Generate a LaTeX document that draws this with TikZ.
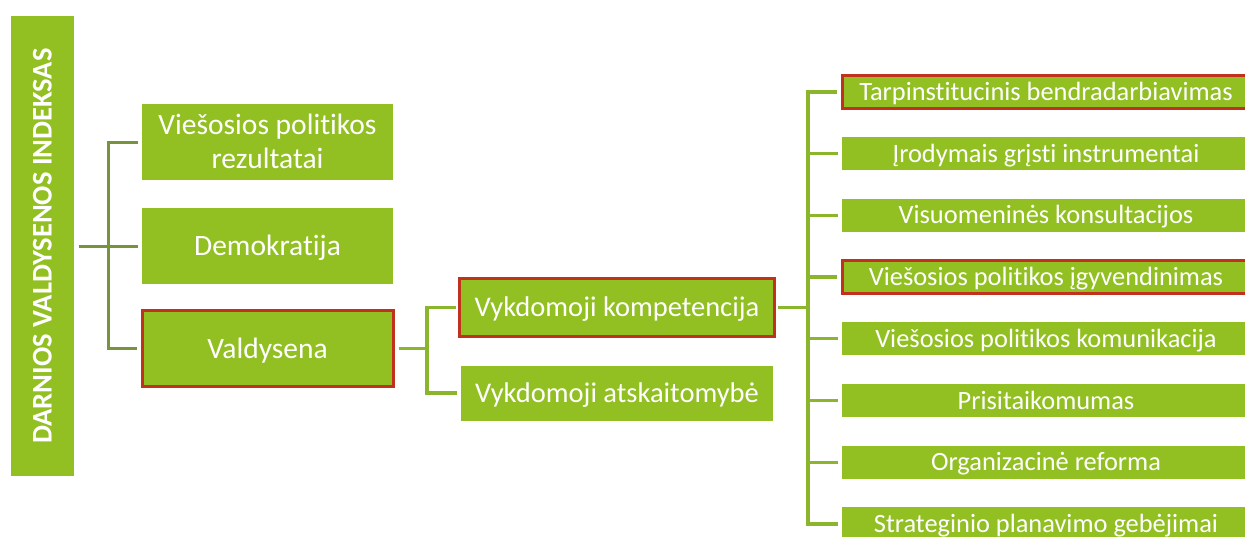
\documentclass[tikz,border=0pt]{standalone}
\usepackage{fontspec}
\setmainfont{Carlito}[Ligatures=NoCommon]
\definecolor{leaf}{RGB}{146,192,35}
\definecolor{stemdark}{RGB}{119,147,60}
\definecolor{stem}{RGB}{139,181,45}
\definecolor{alert}{RGB}{192,50,30}
\tikzset{
  box/.style={fill=leaf, text=white, inner sep=0pt, text depth=0pt, align=center},
  hot/.style={draw=alert, line width=3pt},
  rootbox/.style={box, minimum width=460pt, minimum height=63pt, text height=18.4pt,
    font=\fontsize{28.5}{34}\selectfont\bfseries},
  lvlone/.style={box, minimum width=251pt, minimum height=76pt, text height=19pt,
    font=\fontsize{29.5}{34}\selectfont},
  lvltwo/.style={box, text height=18.5pt, font=\fontsize{28.5}{34}\selectfont},
  lvlthree/.style={box, minimum width=408pt, minimum height=33pt, text height=17pt,
    font=\fontsize{26.4}{30}\selectfont},
  lconn/.style={draw=stemdark, line width=3pt},
  rconn/.style={draw=stem, line width=3.3pt},
}
\begin{document}
\begin{tikzpicture}[x=1pt,y=-1pt]
\useasboundingbox (0,0) rectangle (1245,536);
\clip (0,0) rectangle (1245,536);

% root of the tree
\node[rootbox, rotate=90] (root) at (42.5,246) {DARNIOS VALDYSENOS INDEKSAS};

% first level (two-line text: cap top of line 1 down to baseline of line 2)
\node[lvlone, text height=53pt] (l1a) at (267.5,142) {Viešosios politikos\\rezultatai};
\node[lvlone] (l1b) at (267.5,246) {Demokratija};
\node[lvlone, hot] (l1c) at (267.5,348.5) {Valdysena};

% second level
\node[lvltwo, hot, minimum width=315pt, minimum height=58pt] (l2a) at (617,307.5) {Vykdomoji kompetencija};
\node[lvltwo, minimum width=312pt, minimum height=55pt] (l2b) at (617,393) {Vykdomoji atskaitomybė};

% third level
\node[lvlthree, hot] (t1) at (1046,92) {Tarpinstitucinis bendradarbiavimas};
\node[lvlthree] (t2) at (1046,153.7) {Įrodymais grįsti instrumentai};
\node[lvlthree] (t3) at (1046,215.4) {Visuomeninės konsultacijos};
\node[lvlthree, hot] (t4) at (1046,277.1) {Viešosios politikos įgyvendinimas};
\node[lvlthree] (t5) at (1046,338.8) {Viešosios politikos komunikacija};
\node[lvlthree] (t6) at (1046,400.5) {Prisitaikomumas};
\node[lvlthree] (t7) at (1046,462.2) {Organizacinė reforma};
\node[lvlthree] (t8) at (1046,523.9) {Strateginio planavimo gebėjimai};

% bus lines
\coordinate (bus1) at (108,0);
\coordinate (bus2) at (427,0);
\coordinate (bus3) at (808,0);

% root to first level
\draw[lconn] ([xshift=5pt]root.south) -- ([xshift=-4pt]l1b.west);
\draw[lconn] ([xshift=-4pt]l1a.west) -| (bus1 |- l1c.west) -- ([xshift=-4pt]l1c.west);

% first to second level
\draw[rconn] ([xshift=4pt]l1c.east) -- (l1c.east -| bus2);
\draw[rconn] ([xshift=-2pt]l2a.west) -| (bus2 |- l2b.west) -- ([xshift=-4pt]l2b.west);

% second to third level
\draw[rconn] ([xshift=2pt]l2a.east) -- (l2a.east -| bus3);
\draw[rconn] ([xshift=-4pt]t1.west) -| (bus3 |- t8.west) -- ([xshift=-4pt]t8.west);
\foreach \n in {t2,t3,t4,t5,t6,t7}
  \draw[rconn] (bus3 |- \n.west) -- ([xshift=-4pt]\n.west);
\end{tikzpicture}
\end{document}
